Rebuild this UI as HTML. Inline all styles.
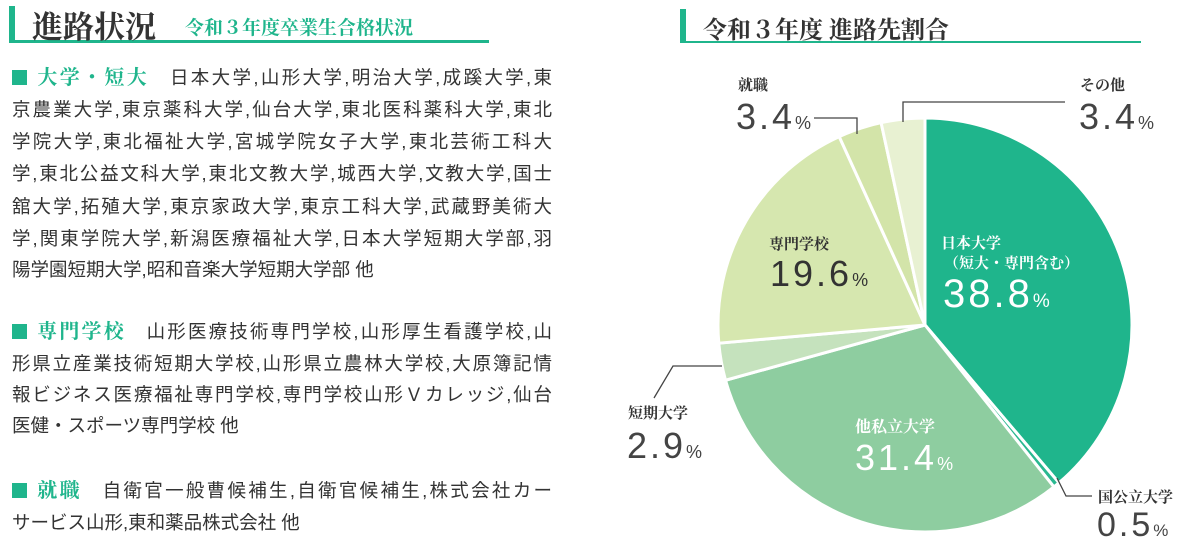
<!DOCTYPE html>
<html><head><meta charset="utf-8">
<style>
body{margin:0;width:1198px;height:556px;background:#fff;position:relative;overflow:hidden;font-family:"Liberation Sans","Noto Sans CJK JP",sans-serif;color:#333}
.abs{position:absolute;white-space:nowrap}
.serif{font-family:"Liberation Serif","Noto Serif CJK SC",serif}
.num{letter-spacing:3px}
.line{position:absolute;left:12px;width:540px;font-size:18.5px;line-height:24px;text-align:justify;text-align-last:justify;color:#333}
.g{color:#1fb58c}
.sq{display:inline-block;width:15px;height:15px;background:#1fb58c;margin-right:8px;vertical-align:-1px}
</style></head><body>
<div class="abs" style="left:9px;top:6px;width:6px;height:36px;background:#1fb58c"></div>
<div class="abs" style="left:9px;top:40px;width:480px;height:3px;background:#1fb58c"></div>
<div class="abs serif" style="left:32px;top:2px;font-size:31px;color:#333;font-weight:bold">進路状況</div>
<div class="abs serif" style="left:185px;top:13px;font-size:19px;color:#1fb58c;font-weight:bold">令和３年度卒業生合格状況</div>

<div class="line" style="top:66px"><span class="sq"></span><span class="g serif" style="font-size:20px;font-weight:bold">大学・短大</span>　日本大学,山形大学,明治大学,成蹊大学,東</div>
<div class="line" style="top:98px">京農業大学,東京薬科大学,仙台大学,東北医科薬科大学,東北</div>
<div class="line" style="top:130px">学院大学,東北福祉大学,宮城学院女子大学,東北芸術工科大</div>
<div class="line" style="top:162px">学,東北公益文科大学,東北文教大学,城西大学,文教大学,国士</div>
<div class="line" style="top:195px">舘大学,拓殖大学,東京家政大学,東京工科大学,武蔵野美術大</div>
<div class="line" style="top:227px">学,関東学院大学,新潟医療福祉大学,日本大学短期大学部,羽</div>
<div class="line" style="top:258px;text-align-last:left">陽学園短期大学,昭和音楽大学短期大学部 他</div>

<div class="line" style="top:320px"><span class="sq"></span><span class="g serif" style="font-size:20px;font-weight:bold">専門学校</span>　山形医療技術専門学校,山形厚生看護学校,山</div>
<div class="line" style="top:352px">形県立産業技術短期大学校,山形県立農林大学校,大原簿記情</div>
<div class="line" style="top:383px">報ビジネス医療福祉専門学校,専門学校山形Ｖカレッジ,仙台</div>
<div class="line" style="top:414px;text-align-last:left">医健・スポーツ専門学校 他</div>

<div class="line" style="top:479px"><span class="sq"></span><span class="g serif" style="font-size:20px;font-weight:bold">就職</span>　自衛官一般曹候補生,自衛官候補生,株式会社カー</div>
<div class="line" style="top:511px;text-align-last:left">サービス山形,東和薬品株式会社 他</div>

<div class="abs" style="left:680px;top:9px;width:6px;height:34px;background:#1fb58c"></div>
<div class="abs" style="left:680px;top:41px;width:461px;height:2px;background:#1fb58c"></div>
<div class="abs serif" style="left:703px;top:10px;font-size:24px;color:#333;font-weight:bold">令和３年度 進路先割合</div>

<svg class="abs" style="left:0;top:0" width="1198" height="556">
<g id="slices"></g>
<g stroke="#444" stroke-width="1.3" fill="none">
<polyline points="814,118 857,118 857,134"/>
<polyline points="1065,102 903,102 903,122"/>
<polyline points="722,366 673,366 654,398"/>
<polyline points="1057,478 1066,496 1092,496"/>
</g>
</svg>

<div class="abs serif" style="left:738px;top:74px;font-size:15px;font-weight:bold">就職</div>
<div class="abs num" style="left:736px;top:96px;font-size:36px;color:#444">3.4<span style="font-size:18px;letter-spacing:0">%</span></div>
<div class="abs serif" style="left:1080px;top:74px;font-size:15px;font-weight:bold">その他</div>
<div class="abs num" style="left:1079px;top:96px;font-size:36px;color:#444">3.4<span style="font-size:18px;letter-spacing:0">%</span></div>
<div class="abs serif" style="left:769px;top:233px;font-size:15px;font-weight:bold">専門学校</div>
<div class="abs num" style="left:770px;top:253px;font-size:36px;color:#333">19.6<span style="font-size:18px;letter-spacing:0">%</span></div>
<div class="abs serif" style="left:941px;top:232px;font-size:15px;font-weight:bold;color:#fff">日本大学</div>
<div class="abs serif" style="left:944px;top:252px;font-size:15px;font-weight:bold;color:#fff">（短大・専門含む）</div>
<div class="abs num" style="left:943px;top:272px;font-size:40px;color:#fff">38.8<span style="font-size:19px;letter-spacing:0">%</span></div>
<div class="abs serif" style="left:855px;top:414px;font-size:16px;font-weight:bold;color:#fff">他私立大学</div>
<div class="abs num" style="left:855px;top:437px;font-size:36px;color:#fff">31.4<span style="font-size:18px;letter-spacing:0">%</span></div>
<div class="abs serif" style="left:628px;top:402px;font-size:15px;font-weight:bold">短期大学</div>
<div class="abs num" style="left:627px;top:425px;font-size:36px;color:#444">2.9<span style="font-size:18px;letter-spacing:0">%</span></div>
<div class="abs serif" style="left:1098px;top:486px;font-size:15px;font-weight:bold">国公立大学</div>
<div class="abs num" style="left:1097px;top:506px;font-size:34px;color:#444">0.5<span style="font-size:17px;letter-spacing:0">%</span></div>

<script>
const categories=["日本大学","国公立大学","他私立大学","短期大学","専門学校","就職","その他"];
const values=[38.8,0.5,31.4,2.9,19.6,3.4,3.4];
const colors=["#1fb58c","#2ab890","#8ecda0","#c5e2bd","#d6e7af","#d3e4a9","#e8f1d2"];
const cx=925,cy=325,r=207;
const total=values.reduce((a,b)=>a+b,0);
const g=document.getElementById('slices');
let acc=0;
values.forEach((v,i)=>{
  const a0=acc/total*2*Math.PI-Math.PI/2;acc+=v;
  const a1=acc/total*2*Math.PI-Math.PI/2;
  const x0=cx+r*Math.cos(a0),y0=cy+r*Math.sin(a0),x1=cx+r*Math.cos(a1),y1=cy+r*Math.sin(a1);
  const large=(a1-a0)>Math.PI?1:0;
  const p=document.createElementNS('http://www.w3.org/2000/svg','path');
  p.setAttribute('d',`M${cx},${cy}L${x0},${y0}A${r},${r} 0 ${large} 1 ${x1},${y1}Z`);
  p.setAttribute('fill',colors[i]);
  p.setAttribute('stroke','#fff');
  p.setAttribute('stroke-width','3');
  p.setAttribute('stroke-linejoin','round');
  
  
  g.appendChild(p);
});
</script>
</body></html>
